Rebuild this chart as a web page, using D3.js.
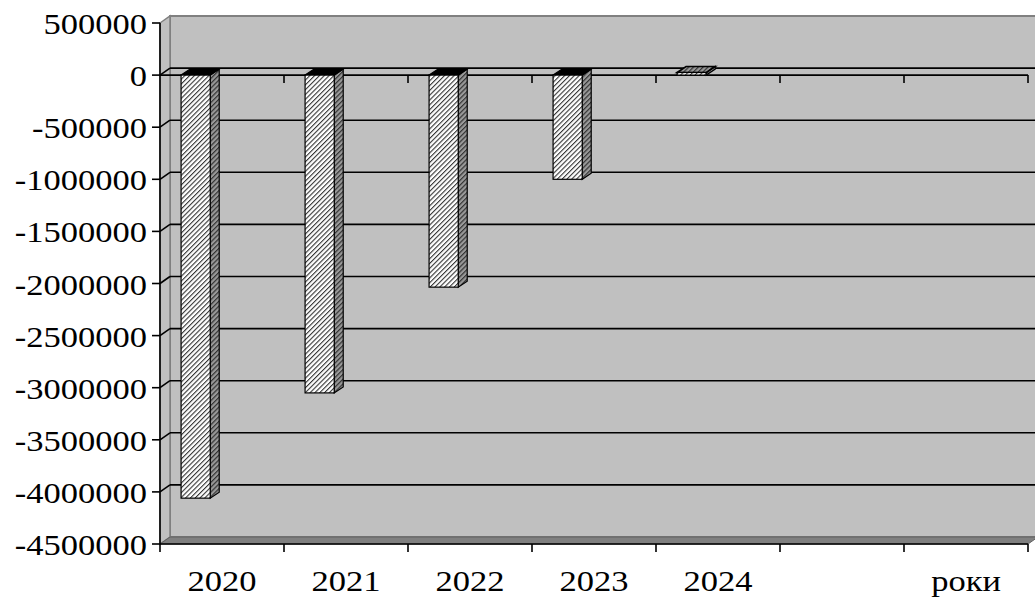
<!DOCTYPE html>
<html>
<head>
    <meta charset="UTF-8">
    <title>Роки</title>
    <style>
        body { margin: 0; background: #fff; }
        .lbl { font-family: "Liberation Serif", "Times New Roman", serif; font-size: 30px; fill: #000; }
    </style>
    <script src="https://d3js.org/d3.v7.min.js"></script>
</head>
<body>
<div id="chart"></div>
<script>
    // data
    const categories = ["2020", "2021", "2022", "2023", "2024", "", "роки"];
    const years = ["2020", "2021", "2022", "2023", "2024"];
    const values = [-4060000, -3050000, -2035000, -1000000, 25000];
    const yTicks = [500000, 0, -500000, -1000000, -1500000, -2000000, -2500000,
                    -3000000, -3500000, -4000000, -4500000];

    const W = 1035, H = 598;
    const plotLeft = 160, plotRight = 1028, plotTop = 23, plotBottom = 544;
    // depth offsets (walls / bars)
    const dx = 10, dy = -7;
    const bdx = 9, bdy = -6;

    const svg = d3.select("#chart").append("svg")
        .attr("width", W).attr("height", H);

    const defs = svg.append("defs");
    defs.append("pattern")
        .attr("id", "hatchFront")
        .attr("patternUnits", "userSpaceOnUse")
        .attr("width", 3.4).attr("height", 3.4)
        .attr("patternTransform", "rotate(45)")
        .call(p => {
            p.append("rect").attr("width", 3.4).attr("height", 3.4).attr("fill", "#fff");
            p.append("rect").attr("width", 1.1).attr("height", 3.4).attr("fill", "#333");
        });
    defs.append("pattern")
        .attr("id", "hatchSide")
        .attr("patternUnits", "userSpaceOnUse")
        .attr("width", 3.4).attr("height", 3.4)
        .attr("patternTransform", "rotate(45)")
        .call(p => {
            p.append("rect").attr("width", 3.4).attr("height", 3.4).attr("fill", "#999");
            p.append("rect").attr("width", 1.2).attr("height", 3.4).attr("fill", "#333");
        });

    const x = d3.scaleBand()
        .domain(categories)
        .range([plotLeft, plotRight]);

    const y = d3.scaleLinear()
        .domain([-4500000, 500000])
        .range([plotBottom, plotTop]);

    const poly = pts => pts.map(p => p.join(",")).join(" ");

    // back wall
    svg.append("rect")
        .attr("x", plotLeft + dx).attr("y", plotTop + dy)
        .attr("width", W - plotLeft).attr("height", plotBottom - plotTop)
        .attr("fill", "#c0c0c0")
        .attr("stroke", "#808080").attr("stroke-width", 2);

    // left wall
    svg.append("polygon")
        .attr("points", poly([[plotLeft, plotTop], [plotLeft + dx, plotTop + dy], [plotLeft + dx, plotBottom + dy], [plotLeft, plotBottom]]))
        .attr("fill", "#c0c0c0")
        .attr("stroke", "#808080").attr("stroke-width", 1.5);

    // floor
    svg.append("polygon")
        .attr("points", poly([[plotLeft, plotBottom], [plotLeft + dx, plotBottom + dy], [plotRight + dx, plotBottom + dy], [plotRight, plotBottom]]))
        .attr("fill", "#808080")
        .attr("stroke", "#606060").attr("stroke-width", 1);

    // gridlines on back + left wall
    const inner = yTicks.filter(t => t > -4500000 && t < 500000);
    const grid = svg.append("g").attr("stroke", "#000").attr("stroke-width", 1.6);
    grid.selectAll(".gb")
        .data(inner)
        .enter().append("line")
            .attr("x1", plotLeft + dx).attr("x2", W)
            .attr("y1", d => y(d) + dy).attr("y2", d => y(d) + dy);
    grid.selectAll(".gl")
        .data(inner)
        .enter().append("line")
            .attr("x1", plotLeft).attr("x2", plotLeft + dx)
            .attr("y1", d => y(d)).attr("y2", d => y(d) + dy);

    // front zero category axis with ticks
    const axisG = svg.append("g").attr("stroke", "#000").attr("stroke-width", 1.6);
    axisG.append("line")
        .attr("x1", plotLeft).attr("x2", plotRight)
        .attr("y1", y(0)).attr("y2", y(0));
    const bounds = categories.map(c => x(c)).concat([plotRight]);
    axisG.selectAll(".tz")
        .data(bounds.slice(1))
        .enter().append("line")
            .attr("x1", d => d).attr("x2", d => d)
            .attr("y1", y(0)).attr("y2", y(0) + 8);

    // bars
    const bw = x.bandwidth();
    const bars = svg.selectAll(".bar")
        .data(years.map((c, i) => ({c, v: values[i]})))
        .enter().append("g").attr("class", "bar");

    bars.each(function(d) {
        const g = d3.select(this);
        const x0 = x(d.c) + bw * 0.17;
        const w = bw * 0.235;
        const y0 = y(0), y1 = y(d.v);
        const yt = Math.min(y0, y1), yb = Math.max(y0, y1);
        // side face
        g.append("polygon")
            .attr("points", poly([[x0 + w, yt], [x0 + w + bdx, yt + bdy], [x0 + w + bdx, yb + bdy], [x0 + w, yb]]))
            .attr("fill", "url(#hatchSide)")
            .attr("stroke", "#000").attr("stroke-width", 1.2);
        // top face
        g.append("polygon")
            .attr("points", poly([[x0, yt], [x0 + bdx, yt + bdy], [x0 + w + bdx, yt + bdy], [x0 + w, yt]]))
            .attr("fill", d.v < 0 ? "#000" : "url(#hatchSide)")
            .attr("stroke", "#000").attr("stroke-width", d.v < 0 ? 1.2 : 1.6);
        // front face
        g.append("rect")
            .attr("x", x0).attr("y", yt)
            .attr("width", w).attr("height", yb - yt)
            .attr("fill", "url(#hatchFront)")
            .attr("stroke", "#000").attr("stroke-width", 1.2);
    });

    // value axis
    const yAxis = svg.append("g").attr("stroke", "#000").attr("stroke-width", 1.6);
    yAxis.append("line")
        .attr("x1", plotLeft).attr("x2", plotLeft)
        .attr("y1", plotTop).attr("y2", plotBottom);
    yAxis.selectAll(".ty")
        .data(yTicks)
        .enter().append("line")
            .attr("x1", plotLeft - 8).attr("x2", plotLeft)
            .attr("y1", d => y(d)).attr("y2", d => y(d));

    svg.selectAll(".ylbl")
        .data(yTicks)
        .enter().append("text")
            .attr("class", "lbl")
            .attr("text-anchor", "end")
            .attr("transform", d => `translate(147,${y(d) + 11}) scale(1.15,1)`)
            .text(d => String(d));

    // bottom category axis
    const xAxis = svg.append("g").attr("stroke", "#000").attr("stroke-width", 1.6);
    xAxis.append("line")
        .attr("x1", plotLeft).attr("x2", plotRight)
        .attr("y1", plotBottom).attr("y2", plotBottom);
    xAxis.selectAll(".tx")
        .data(bounds)
        .enter().append("line")
            .attr("x1", d => d).attr("x2", d => d)
            .attr("y1", plotBottom).attr("y2", plotBottom + 8);

    svg.selectAll(".xlbl")
        .data(categories)
        .enter().append("text")
            .attr("class", "lbl")
            .attr("text-anchor", "middle")
            .attr("transform", d => `translate(${x(d) + bw / 2},591) scale(1.15,1)`)
            .text(d => d);
</script>
</body>
</html>
